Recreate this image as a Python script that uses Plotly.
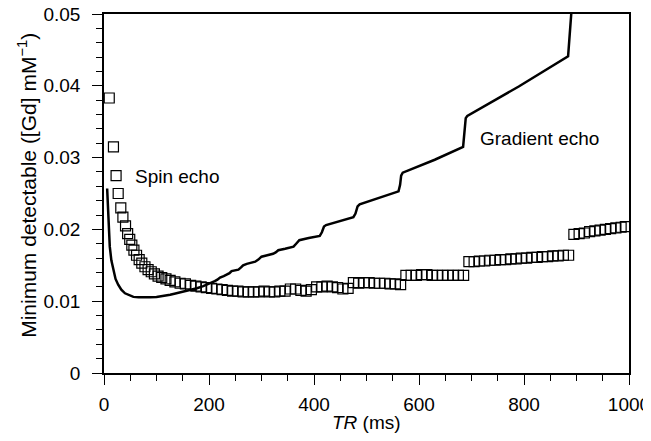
import plotly.graph_objects as go

# Gradient echo curve (TR in ms, minimum detectable [Gd] mM^-1)
ge_tr = [6, 8, 11, 14, 18, 22, 27, 33, 40, 48, 56, 66, 75, 88, 100, 113, 126, 138, 151, 164,
         177, 189, 200, 211, 216, 221, 228, 234, 239, 243, 249, 256, 261, 265, 272, 280, 288,
         294, 300, 311, 322, 327, 332, 345, 361, 366, 372, 390, 411, 415, 419, 423, 450, 475,
         479, 483, 487, 525, 561, 564, 566, 569, 630, 684, 687, 689, 692, 790, 884, 887, 892]
ge_val = [0.0257, 0.0213, 0.0176, 0.0157, 0.0143, 0.0131, 0.0123, 0.0116, 0.0111, 0.0108,
          0.0106, 0.01055, 0.01053, 0.01055, 0.0106, 0.0107, 0.0109, 0.0111, 0.0113, 0.0115,
          0.0118, 0.0121, 0.0124, 0.0128, 0.0130, 0.0133, 0.0135, 0.0137, 0.0139, 0.0142,
          0.0143, 0.0144, 0.0147, 0.0150, 0.0152, 0.0153, 0.0155, 0.0158, 0.0162, 0.0164,
          0.0166, 0.0168, 0.0171, 0.0173, 0.0176, 0.0180, 0.0185, 0.0188, 0.0191, 0.0196,
          0.0204, 0.0206, 0.0212, 0.0217, 0.0222, 0.0232, 0.0235, 0.0244, 0.0253, 0.0262,
          0.0275, 0.0279, 0.0297, 0.0315, 0.0335, 0.0355, 0.0358, 0.0399, 0.0441, 0.0470,
          0.0520]

# Spin echo points
se_tr = [10, 18, 23, 27, 32, 36, 41, 45, 49, 53, 57, 62, 67, 72, 78, 84, 90, 96, 103, 110,
         118, 126, 135, 145, 155, 165, 175, 185, 195, 205, 215, 225, 235, 245, 255, 265, 275,
         285, 295, 305, 315, 325, 335, 345, 355, 365, 375, 385, 395, 405, 415, 425, 435, 445,
         455, 465, 475, 485, 495, 505, 515, 525, 535, 545, 555, 565, 575, 585, 595, 605, 615,
         625, 635, 645, 655, 665, 675, 685, 695, 705, 715, 725, 735, 745, 755, 765, 775, 785,
         795, 805, 815, 825, 835, 845, 855, 865, 875, 885, 895, 905, 915, 925, 935, 945, 955,
         965, 975, 985, 993]
se_val = [0.0383, 0.0315, 0.0275, 0.0250, 0.0230, 0.0217, 0.0205, 0.0194, 0.0186, 0.0178,
          0.0171, 0.0164, 0.0158, 0.0153, 0.0148, 0.0144, 0.0141, 0.0138, 0.0135, 0.0133,
          0.0131, 0.0129, 0.0127, 0.0125, 0.0124, 0.0122, 0.0121, 0.0120, 0.0119, 0.0118,
          0.0117, 0.0116, 0.0115, 0.0114, 0.0114, 0.0113, 0.0113, 0.0113, 0.0113, 0.0114,
          0.0113, 0.0113, 0.0114, 0.0114, 0.0117, 0.0117, 0.0115, 0.0114, 0.0116, 0.0120,
          0.0120, 0.0121, 0.0120, 0.0119, 0.0117, 0.0118, 0.0126, 0.0125, 0.0126, 0.0126,
          0.0125, 0.0125, 0.0125, 0.0124, 0.0124, 0.0123, 0.0136, 0.0136, 0.0136, 0.0137,
          0.0137, 0.0136, 0.0136, 0.0136, 0.0136, 0.0136, 0.0136, 0.0136, 0.0155, 0.0155,
          0.0156, 0.0156, 0.0157, 0.0157, 0.0158, 0.0158, 0.0159, 0.0159, 0.0160, 0.0160,
          0.0161, 0.0161, 0.0162, 0.0162, 0.0163, 0.0163, 0.0164, 0.0164, 0.0193, 0.0194,
          0.0195, 0.0197, 0.0198, 0.0199, 0.0200, 0.0201, 0.0202, 0.0203, 0.0204]

x_ticks = [0, 200, 400, 600, 800, 1000]
y_ticks = [0, 0.01, 0.02, 0.03, 0.04, 0.05]
y_ticklabels = ["0", "0.01", "0.02", "0.03", "0.04", "0.05"]

FONT = "Liberation Sans, Arial, sans-serif"

fig = go.Figure()
fig.add_trace(go.Scatter(
    x=se_tr, y=se_val, mode="markers",
    marker=dict(symbol="square-open", size=10, color="black", line=dict(width=1.2, color="black")),
    showlegend=False,
))
fig.add_trace(go.Scatter(
    x=ge_tr, y=ge_val, mode="lines",
    line=dict(color="black", width=2.5),
    showlegend=False,
))

fig.add_annotation(x=55, y=0.0273, text="Spin echo", showarrow=False, xanchor="left",
                   yanchor="middle", font=dict(family=FONT, size=19, color="black"))
fig.add_annotation(x=712, y=0.0327, text="Gradient echo", showarrow=False, xanchor="left",
                   yanchor="middle", font=dict(family=FONT, size=19, color="black"))
# axis titles
fig.add_annotation(xref="paper", yref="paper", x=0.5, y=-0.139, text="<i>TR</i> (ms)",
                   showarrow=False, xanchor="center", yanchor="middle",
                   font=dict(family=FONT, size=19, color="black"))
fig.add_annotation(xref="paper", yref="paper", x=-0.1467, y=0.524,
                   text="Minimum detectable ([Gd] mM<sup>\u22121</sup>)", textangle=-90,
                   showarrow=False, xanchor="center", yanchor="middle",
                   font=dict(family=FONT, size=21, color="black"))

# the page body adds an 8px offset, so the figure is sized to fit the visible window
fig.update_layout(
    width=643, height=433,
    margin=dict(l=96, r=22, t=6, b=68),
    paper_bgcolor="white", plot_bgcolor="white",
    font=dict(family=FONT, size=19, color="black"),
)
fig.update_xaxes(
    automargin=False, ticklabeloverflow="allow",
    range=[0, 1000], tickvals=x_ticks, ticks="outside", ticklen=10, tickwidth=1.3,
    tickcolor="black", showline=True, linecolor="black", linewidth=1.5, mirror=True,
    showgrid=False, zeroline=False, ticklabelstandoff=3,
    minor=dict(dtick=50, ticks="outside", ticklen=6, tickwidth=1.2, tickcolor="black", showgrid=False),
    tickfont=dict(size=19),
)
fig.update_yaxes(
    automargin=False, ticklabeloverflow="allow",
    range=[0, 0.05], tickvals=y_ticks, ticktext=y_ticklabels, ticks="outside", ticklen=10,
    tickwidth=1.3, tickcolor="black", showline=True, linecolor="black", linewidth=1.5,
    mirror=True, showgrid=False, zeroline=False, ticklabelstandoff=8,
    minor=dict(dtick=0.002, ticks="outside", ticklen=6, tickwidth=1.2, tickcolor="black", showgrid=False),
    tickfont=dict(size=19),
)

fig.write_html("out.html")
